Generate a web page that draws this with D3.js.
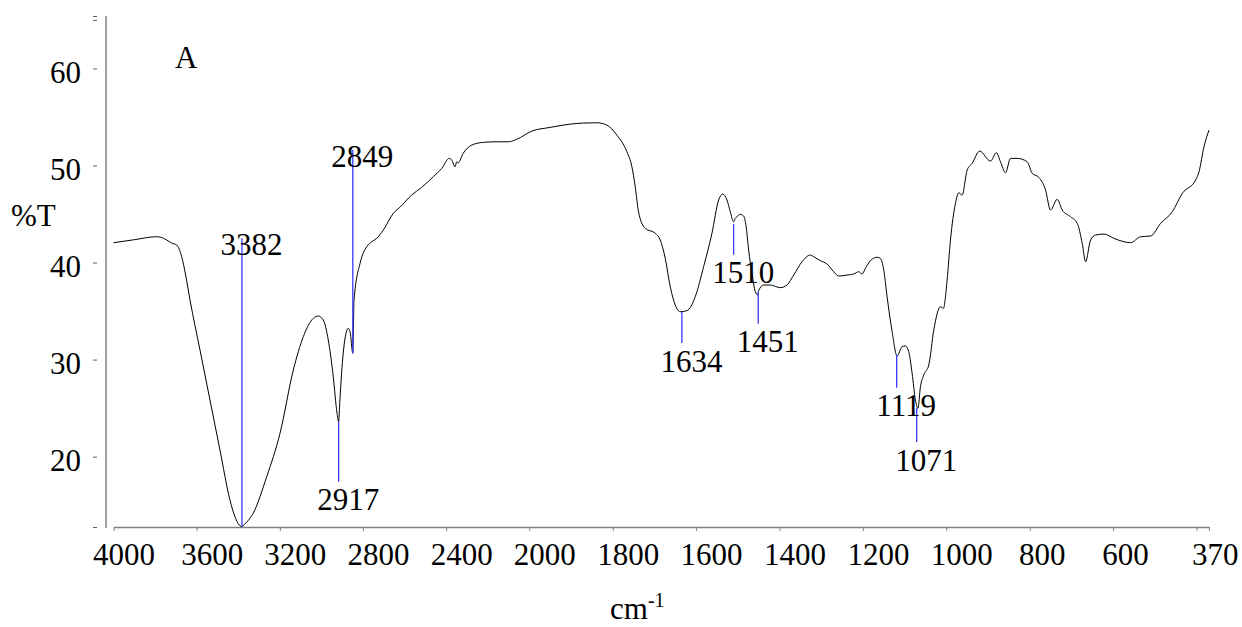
<!DOCTYPE html>
<html lang="en">
<head>
    <meta charset="UTF-8">
    <title>FTIR spectrum A</title>
    <style>
        body {
            margin: 0;
            padding: 0;
            background: #fff;
            overflow: hidden;
        }
        svg text {
            font-family: "Liberation Serif", "Times New Roman", serif;
            fill: #000;
        }
    </style>
</head>
<body>
    <div id="chart"></div>

    <script src="https://d3js.org/d3.v7.min.js"></script>
    <script>
        // spectrum (cm-1, %T)
        const wavenumber = [
            4000, 3900, 3792, 3760, 3744, 3720, 3696, 3672, 3652, 3632,
            3584, 3536, 3488, 3440, 3416, 3395, 3382, 3368, 3328, 3263,
            3199, 3135, 3087, 3039, 3015, 2991, 2967, 2943, 2925, 2917,
            2911, 2895, 2871, 2862, 2849, 2843, 2814, 2782, 2758, 2734,
            2702, 2654, 2622, 2566, 2518, 2462, 2421, 2385, 2373, 2357,
            2349, 2342, 2318, 2277, 2221, 2157, 2101, 2061, 1994, 1950,
            1902, 1870, 1838, 1814, 1790, 1766, 1754, 1746, 1738, 1722,
            1698, 1686, 1674, 1662, 1650, 1638, 1622, 1602, 1582, 1562,
            1546, 1536, 1526, 1518, 1510, 1506, 1502, 1494, 1486, 1480,
            1474, 1466, 1458, 1452, 1450, 1438, 1422, 1398, 1382, 1366,
            1346, 1326, 1318, 1302, 1286, 1270, 1258, 1238, 1222, 1210,
            1202, 1194, 1182, 1166, 1158, 1150, 1142, 1130, 1118, 1106,
            1098, 1090, 1082, 1074, 1068, 1062, 1054, 1042, 1030, 1014,
            1007, 998, 990, 978, 970, 962, 950, 938, 920, 894,
            880, 870, 858, 846, 830, 806, 794, 778, 762, 750,
            734, 722, 702, 686, 674, 666, 654, 642, 622, 598,
            574, 558, 534, 510, 486, 458, 434, 402, 394, 382,
            370
        ];
        const transmittance = [
            42.04, 42.35, 42.66, 42.5, 42.32, 42.0, 41.8, 40.6, 38.6, 36.14,
            30.99, 25.84, 20.69, 15.54, 13.82, 12.95, 12.8, 13.07, 14.17, 17.94,
            22.41, 28.93, 32.36, 34.25, 34.49, 34.08, 32.02, 28.24, 24.5, 23.6,
            25.84, 30.68, 33.22, 32.87, 30.65, 36.14, 39.92, 41.63, 42.14, 42.49,
            43.35, 45.07, 45.7, 46.95, 47.74, 48.84, 49.7, 50.73, 50.56, 49.87,
            50.38, 50.28, 51.25, 52.1, 52.38, 52.44, 52.44, 52.69, 53.54, 53.92,
            54.26, 54.37, 54.4, 54.16, 53.13, 51.41, 49.87, 47.81, 45.2, 43.52,
            43.01, 42.32, 40.43, 37.51, 35.62, 34.93, 35.04, 36.48, 39.57, 43.01,
            46.44, 47.05, 46.44, 45.23, 44.2, 44.55, 44.72, 44.96, 44.79, 43.69,
            41.29, 38.89, 36.99, 36.65, 37.1, 37.68, 37.68, 37.41, 37.68, 38.71,
            40.08, 40.77, 40.6, 40.19, 39.85, 39.05, 38.61, 38.71, 38.82, 39.05,
            38.82, 39.4, 40.19, 40.54, 40.43, 39.23, 36.48, 32.9, 30.37, 31.33,
            31.4, 30.81, 28.59, 25.84, 24.98, 27.21, 28.41, 29.44, 33.05, 35.45,
            35.28, 38.2, 42.32, 46.1, 47.19, 46.95, 49.53, 50.22, 51.48, 50.45,
            51.31, 50.38, 49.25, 50.73, 50.73, 50.38, 49.19, 48.77, 47.47, 45.41,
            46.51, 45.41, 44.72, 44.04, 41.98, 40.08, 42.32, 42.83, 42.93, 42.49,
            42.14, 42.04, 42.66, 42.73, 44.04, 45.23, 47.13, 48.5, 49.35, 51.93,
            53.65
        ];

        // marked bands: position, %T at the band, %T where the marker ends
        const peakWn = [3382, 2849, 2917, 1634, 1510, 1451, 1119, 1071];
        const peakT = [12.8, 30.65, 23.6, 34.9, 44.0, 37.0, 30.5, 25.0];
        const peakEndT = [42.5, 51.6, 17.4, 31.7, 40.8, 33.7, 27.1, 21.5];

        const xTicks = [4000, 3600, 3200, 2800, 2400, 2000, 1800, 1600, 1400, 1200, 1000, 800, 600, 400, 370];
        const xTickLabels = ["4000", "3600", "3200", "2800", "2400", "2000", "1800", "1600", "1400", "1200", "1000", "800", "600", "", "370"];
        const yTicks = [12.75, 20, 30, 40, 50, 60, 65, 65.4];
        const yTickLabels = ["", "20", "30", "40", "50", "60", "", ""];

        const width = 1242;
        const height = 627;
        const fontSize = 31;

        const svg = d3.select('#chart')
            .append('svg')
            .attr('width', width)
            .attr('height', height);

        // the wavenumber axis changes scale at 2000 cm-1
        const x = d3.scaleLinear()
            .domain([4000, 2000, 370])
            .range([113.5, 529.3, 1209]);

        const y = d3.scaleLinear()
            .domain([12.75, 65.4])
            .range([527, 16]);

        // x axis
        const xAxis = svg.append('g')
            .attr('transform', `translate(0,${y(12.75)})`)
            .call(d3.axisBottom(x)
                .tickValues(xTicks)
                .tickSize(4)
                .tickSizeOuter(0)
                .tickPadding(10)
                .tickFormat((d, i) => xTickLabels[i]));

        xAxis.select('.domain').attr('stroke', '#808080').attr('stroke-width', 1.5);
        xAxis.selectAll('.tick line').attr('stroke', '#808080');
        xAxis.selectAll('.tick text')
            .attr('font-size', fontSize)
            .attr('font-family', '"Liberation Serif", serif')
            .attr('fill', '#000')
            .attr('dy', 0)
            .attr('y', 565 - y(12.75))
            .attr('text-anchor', (d, i) => i === xTicks.length - 1 ? 'end' : 'middle')
            .attr('dx', (d, i) => {
                if (i === xTicks.length - 1) return 29;
                if (i === 0) return 10;
                return xTickLabels[i].length === 4 ? 15 : 12;
            });

        // y axis: ticks stand a little left of the axis line
        const yAxis = svg.append('g')
            .attr('transform', 'translate(97,0)')
            .call(d3.axisLeft(y)
                .tickValues(yTicks)
                .tickSize(4)
                .tickPadding(12)
                .tickFormat((d, i) => yTickLabels[i]));

        yAxis.select('.domain').remove();
        yAxis.selectAll('.tick line').attr('stroke', '#606060');
        yAxis.selectAll('.tick text')
            .attr('font-size', fontSize)
            .attr('font-family', '"Liberation Serif", serif')
            .attr('fill', '#000')
            .attr('dy', '0.46em');

        svg.append('line')
            .attr('x1', 106).attr('x2', 106)
            .attr('y1', y(65.4)).attr('y2', y(12.75) + 1)
            .attr('stroke', '#808080')
            .attr('stroke-width', 1.5);

        // spectrum
        const points = wavenumber.map((w, i) => [w, transmittance[i]]);

        const line = d3.line()
            .x(d => x(d[0]))
            .y(d => y(d[1]))
            .curve(d3.curveMonotoneX);

        svg.append('path')
            .datum(points)
            .attr('fill', 'none')
            .attr('stroke', '#000')
            .attr('stroke-width', 1)
            .attr('d', line);

        // band markers
        const peaks = peakWn.map((w, i) => ({ w, t0: peakT[i], t1: peakEndT[i] }));

        const marks = svg.append('g');

        marks.selectAll('line')
            .data(peaks)
            .enter().append('line')
            .attr('x1', d => x(d.w))
            .attr('x2', d => x(d.w))
            .attr('y1', d => y(d.t0))
            .attr('y2', d => y(d.t1))
            .attr('stroke', '#3a3aff')
            .attr('stroke-width', 1.3);

        marks.selectAll('text')
            .data(peaks)
            .enter().append('text')
            .attr('x', d => x(d.w) + 9.5)
            .attr('y', d => d.t1 > d.t0 ? y(d.t1) + 17 : y(d.t1) + 28.5)
            .attr('text-anchor', 'middle')
            .attr('font-size', fontSize)
            .text(d => d.w);

        // titles
        svg.append('text')
            .attr('x', 175)
            .attr('y', 68)
            .attr('font-size', fontSize)
            .text('A');

        svg.append('text')
            .attr('x', 11)
            .attr('y', 226)
            .attr('font-size', fontSize)
            .text('%T');

        const unit = svg.append('text')
            .attr('x', 610)
            .attr('y', 619)
            .attr('font-size', fontSize)
            .text('cm');
        unit.append('tspan')
            .attr('font-size', 20)
            .attr('dy', -12)
            .text('-1');
    </script>
</body>
</html>
